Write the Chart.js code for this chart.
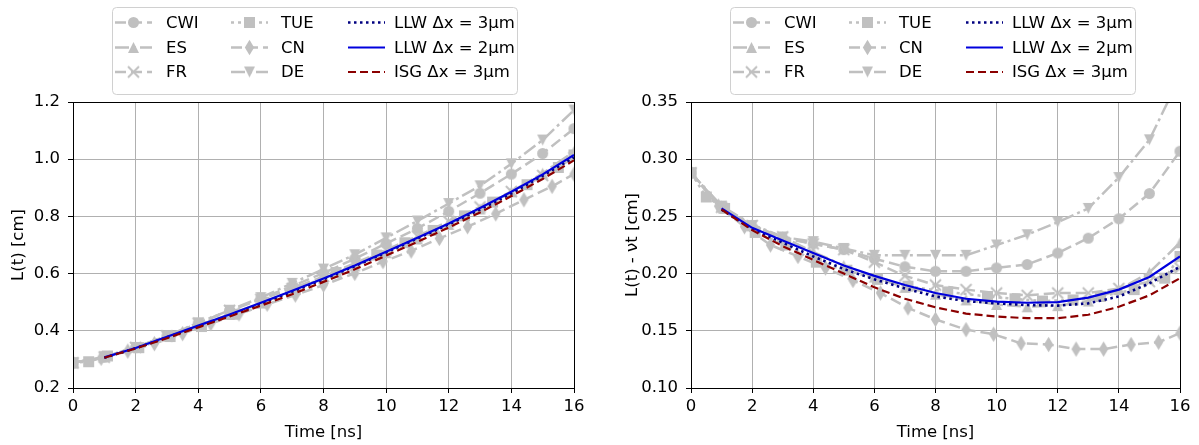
<!DOCTYPE html>
<html><head><meta charset="utf-8">
<script src="https://cdn.jsdelivr.net/npm/chart.js@4.4.1/dist/chart.umd.min.js"></script>
<style>
html,body{margin:0;padding:0;background:#fff;}
#wrap{position:relative;width:1199px;height:445px;overflow:hidden;background:#fff;}
#c1{position:absolute;left:0;top:0;width:600px;height:445px;}
#c2{position:absolute;left:600px;top:0;width:599px;height:445px;}
</style></head><body>
<div id="wrap"><canvas id="c1" width="600" height="445"></canvas><canvas id="c2" width="599" height="445"></canvas></div>
<script>
// ---------------- data ----------------
const tSteps = [0,1,2,3,4,5,6,7,8,9,10,11,12,13,14,15,16];
const tTUE   = [0,0.5,1.1,2.1,3.1,4.1,5.1,6.1,7.1,8.4,9.7,10.6,11.5,12.5,13.4,14.5,15.5,16];
const tCN    = [0,0.9,1.75,2.6,3.5,4.4,5.3,6.2,7.1,8.0,9.0,9.9,10.8,11.7,12.6,13.5,14.4,15.3,16];
const tSim   = [1,2,3,4,5,6,7,8,9,10,11,12,13,14,15,16];

// L(t) [cm]
const cwiL  = [0.288,0.308,0.341,0.381,0.426,0.471,0.513,0.556,0.602,0.652,0.705,0.758,0.818,0.881,0.948,1.020,1.107];
const esL   = [0.288,0.309,0.343,0.382,0.419,0.457,0.497,0.538,0.582,0.627,0.673,0.721,0.772,0.826,0.886,0.951,1.027];
const frL   = [0.288,0.308,0.342,0.382,0.426,0.471,0.510,0.548,0.590,0.636,0.683,0.731,0.783,0.833,0.887,0.943,1.005];
const tueL  = [0.288,0.292,0.312,0.341,0.380,0.415,0.458,0.500,0.544,0.604,0.665,0.708,0.751,0.802,0.850,0.911,0.971,1.015];
const cnL   = [0.288,0.304,0.329,0.355,0.390,0.425,0.459,0.493,0.525,0.560,0.601,0.642,0.679,0.723,0.764,0.809,0.858,0.905,0.948];
const deL   = [0.288,0.309,0.342,0.382,0.428,0.472,0.516,0.566,0.616,0.666,0.725,0.784,0.845,0.907,0.984,1.067,1.172];
const llw3L = [0.306,0.339,0.377,0.415,0.454,0.495,0.537,0.580,0.626,0.674,0.723,0.772,0.824,0.880,0.942,1.006];
const llw2L = [0.307,0.340,0.379,0.418,0.457,0.498,0.540,0.583,0.628,0.676,0.725,0.775,0.829,0.886,0.947,1.015];
const isgL  = [0.306,0.338,0.374,0.412,0.450,0.488,0.528,0.571,0.615,0.663,0.711,0.761,0.814,0.871,0.931,0.996];

// L(t) - vt [cm]
const cwiR  = [0.288,0.258,0.241,0.231,0.226,0.221,0.213,0.206,0.202,0.202,0.205,0.208,0.218,0.231,0.248,0.270,0.307];
const esR   = [0.288,0.259,0.243,0.232,0.219,0.207,0.197,0.188,0.182,0.177,0.173,0.171,0.172,0.176,0.186,0.201,0.227];
const frR   = [0.288,0.258,0.242,0.232,0.226,0.221,0.210,0.198,0.190,0.186,0.183,0.181,0.183,0.183,0.187,0.193,0.205];
const tueR  = [0.288,0.267,0.257,0.236,0.225,0.210,0.203,0.195,0.189,0.184,0.180,0.178,0.176,0.177,0.180,0.186,0.196,0.215];
const cnR   = [0.288,0.259,0.241,0.225,0.215,0.205,0.194,0.183,0.170,0.160,0.151,0.147,0.139,0.138,0.134,0.134,0.138,0.140,0.148];
const deR   = [0.288,0.259,0.242,0.232,0.228,0.222,0.216,0.216,0.216,0.216,0.225,0.234,0.245,0.257,0.284,0.317,0.372];
const llw3R = [0.256,0.239,0.227,0.215,0.204,0.195,0.187,0.180,0.176,0.174,0.1725,0.172,0.174,0.180,0.1915,0.206];
const llw2R = [0.257,0.240,0.229,0.218,0.207,0.198,0.190,0.183,0.178,0.1755,0.1745,0.175,0.179,0.186,0.197,0.215];
const isgR  = [0.256,0.238,0.224,0.212,0.200,0.188,0.178,0.1705,0.165,0.1625,0.161,0.161,0.164,0.171,0.181,0.196];

const xTicks = [0,2,4,6,8,10,12,14,16];
const leftYTicks = [0.2,0.4,0.6,0.8,1.0,1.2];
const rightYTicks = [0.10,0.15,0.20,0.25,0.30,0.35];
const labels = ['CWI','ES','FR','TUE','CN','DE','LLW \u0394x = 3\u03bcm','LLW \u0394x = 2\u03bcm','ISG \u0394x = 3\u03bcm'];

// ---------------- styles ----------------
const FONT = '"DejaVu Sans", "Liberation Sans", sans-serif';
const FS = 16.5;
const GRAY = '#c0c0c0';
const DASH = [11,5], DASHDOT = [14,4,3,4], DOT = [3,4];

function marker(type, ms){
  const pad = 4, s = Math.ceil(ms*1.5)+pad;
  const c = document.createElement('canvas'); c.width = s; c.height = s;
  const g = c.getContext('2d'); const cx = s/2, cy = s/2, h = ms/2;
  g.fillStyle = GRAY; g.strokeStyle = GRAY; g.lineWidth = 1;
  g.beginPath();
  if(type==='o'){ g.arc(cx,cy,h,0,Math.PI*2); g.fill(); }
  else if(type==='s'){ g.rect(cx-h,cy-h,ms,ms); g.fill(); }
  else if(type==='^'){ g.moveTo(cx,cy-h); g.lineTo(cx-h,cy+h); g.lineTo(cx+h,cy+h); g.closePath(); g.fill(); }
  else if(type==='v'){ g.moveTo(cx,cy+h); g.lineTo(cx-h,cy-h); g.lineTo(cx+h,cy-h); g.closePath(); g.fill(); }
  else if(type==='d'){ const dy = ms*0.707, dx = dy*0.6; g.moveTo(cx,cy-dy); g.lineTo(cx+dx,cy); g.lineTo(cx,cy+dy); g.lineTo(cx-dx,cy); g.closePath(); g.fill(); }
  else if(type==='x'){ g.lineWidth = 2; g.moveTo(cx-h,cy-h); g.lineTo(cx+h,cy+h); g.moveTo(cx-h,cy+h); g.lineTo(cx+h,cy-h); g.stroke(); }
  return c;
}

const series = [
  {label:labels[0], t:tSteps, L:cwiL,  R:cwiR,  m:'o', dash:DASH,    color:GRAY, w:2.5},
  {label:labels[1], t:tSteps, L:esL,   R:esR,   m:'^', dash:DASHDOT, color:GRAY, w:2.5},
  {label:labels[2], t:tSteps, L:frL,   R:frR,   m:'x', dash:DASH,    color:GRAY, w:2.5},
  {label:labels[3], t:tTUE,   L:tueL,  R:tueR,  m:'s', dash:DOT,     color:GRAY, w:2.5},
  {label:labels[4], t:tCN,    L:cnL,   R:cnR,   m:'d', dash:DASH,    color:GRAY, w:2.5},
  {label:labels[5], t:tSteps, L:deL,   R:deR,   m:'v', dash:DASHDOT, color:GRAY, w:2.5},
  {label:labels[6], t:tSim,   L:llw3L, R:llw3R, m:null, dash:[2.5,3.5], color:'#000080', w:2.6},
  {label:labels[7], t:tSim,   L:llw2L, R:llw2R, m:null, dash:[],     color:'#0000dd', w:2.2},
  {label:labels[8], t:tSim,   L:isgL,  R:isgR,  m:null, dash:[8,4],  color:'#8b0000', w:2.2}
];
series.forEach(s => { s.img = s.m ? marker(s.m, 11) : null; });

function datasets(key){
  return series.map((s,i) => ({
    label: s.label,
    data: s.t.map((x,j) => ({x:x, y:s[key][j]})),
    borderColor: s.color, backgroundColor: s.color,
    borderWidth: s.w, borderDash: s.dash,
    pointStyle: s.img || 'circle',
    pointRadius: s.img ? 5 : 0, pointHoverRadius: s.img ? 5 : 0,
    tension: 0, fill: false,
    order: 20 - i
  }));
}

function framePlugin(){
  return {id:'frame', afterDatasetsDraw(chart){
    const {ctx, chartArea:a} = chart; ctx.save();
    ctx.strokeStyle = '#000'; ctx.lineWidth = 1; ctx.setLineDash([]);
    ctx.strokeRect(Math.round(a.left)+0.5, Math.round(a.top)+0.5, Math.round(a.right-a.left), Math.round(a.bottom-a.top));
    ctx.restore();
  }};
}

function legendPlugin(boxLeft){
  return {id:'lg', afterDraw(chart){
    const ctx = chart.ctx; ctx.save();
    const top = 7.5, w = 405, h = 87, r = 4, L = boxLeft + 0.5;
    ctx.beginPath();
    ctx.moveTo(L+r, top); ctx.lineTo(L+w-r, top); ctx.arcTo(L+w, top, L+w, top+r, r);
    ctx.lineTo(L+w, top+h-r); ctx.arcTo(L+w, top+h, L+w-r, top+h, r);
    ctx.lineTo(L+r, top+h); ctx.arcTo(L, top+h, L, top+h-r, r);
    ctx.lineTo(L, top+r); ctx.arcTo(L, top, L+r, top, r); ctx.closePath();
    ctx.fillStyle = 'rgba(255,255,255,0.8)'; ctx.fill();
    ctx.strokeStyle = '#d0d0d0'; ctx.lineWidth = 1; ctx.stroke();
    const cols = [{h:3,t:54},{h:119,t:169},{h:236,t:282}];
    const rows = [15, 40, 64.5];
    series.forEach((s,i) => {
      const c = cols[Math.floor(i/3)], yy = top + rows[i%3];
      const x1 = boxLeft + c.h, x2 = x1 + 37;
      ctx.setLineDash(s.dash); ctx.lineDashOffset = 0;
      ctx.strokeStyle = s.color; ctx.lineWidth = s.w;
      ctx.beginPath(); ctx.moveTo(x1, yy); ctx.lineTo(x2, yy); ctx.stroke();
      ctx.setLineDash([]);
      if (s.img) ctx.drawImage(s.img, (x1+x2)/2 - s.img.width/2, yy - s.img.height/2);
      ctx.fillStyle = '#000'; ctx.font = FS + 'px ' + FONT;
      ctx.textBaseline = 'middle'; ctx.textAlign = 'left';
      ctx.fillText(s.label, boxLeft + c.t, yy + 1);
    });
    ctx.restore();
  }};
}

function makeChart(id, key, yTicks, ymin, ymax, dec, yTitle, yWidth, rightPad, titlePad, legendLeft){
  return new Chart(document.getElementById(id), {
    type: 'line',
    data: { datasets: datasets(key) },
    options: {
      responsive: false, maintainAspectRatio: false, animation: false,
      devicePixelRatio: 1,
      layout: { padding: { left: 0, top: 102, right: rightPad, bottom: 0 } },
      plugins: { legend: { display: false }, tooltip: { enabled: false } },
      events: [],
      scales: {
        x: {
          type: 'linear', min: 0, max: 16,
          afterBuildTicks: s => { s.ticks = xTicks.map(v => ({value: v})); },
          afterFit: s => { s.height = 57; },
          ticks: { color: '#000', font: {family: FONT, size: FS}, padding: 4, maxRotation: 0,
                   callback: v => String(v) },
          grid: { color: '#b0b0b0', lineWidth: 1, tickLength: 5, tickColor: '#000', tickWidth: 1 },
          border: { color: '#000', width: 1 },
          title: { display: true, text: 'Time [ns]', color: '#000', font: {family: FONT, size: FS}, padding: {top: 0, bottom: 2} }
        },
        y: {
          type: 'linear', min: ymin, max: ymax,
          afterBuildTicks: s => { s.ticks = yTicks.map(v => ({value: v})); },
          afterFit: s => { s.width = yWidth; },
          ticks: { color: '#000', font: {family: FONT, size: FS}, padding: 8,
                   callback: v => Number(v).toFixed(dec) },
          grid: { color: '#b0b0b0', lineWidth: 1, tickLength: 5, tickColor: '#000', tickWidth: 1 },
          border: { color: '#000', width: 1 },
          title: { display: true, text: yTitle, color: '#000', font: {family: FONT, size: FS}, padding: {top: titlePad, bottom: 0} }
        }
      }
    },
    plugins: [framePlugin(), legendPlugin(legendLeft)]
  });
}

makeChart('c1', 'L', leftYTicks, 0.2, 1.2, 1, 'L(t) [cm]', 73, 26, 9, 112);
makeChart('c2', 'R', rightYTicks, 0.10, 0.35, 2, 'L(t) - \u03bdt [cm]', 91, 19, 23, 130);
</script></body></html>
